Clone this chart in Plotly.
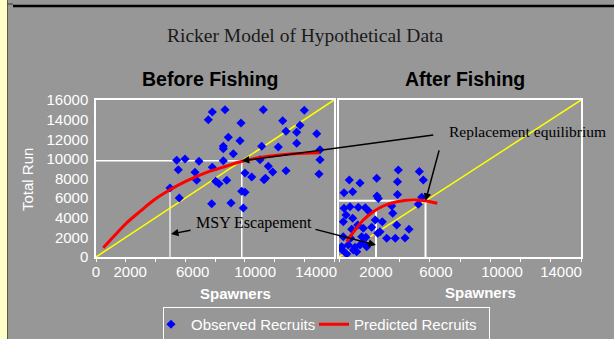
import plotly.graph_objects as go

W, H = 614, 339

# ---------------- data ----------------
# Before fishing: observed recruits (spawners, total run)
before_spawners = [5425, 5983, 6925, 5533, 6656, 6770, 5600, 4975, 7550, 7819, 8673, 7819,
                   8047, 8269, 7778, 8558, 8558, 8558, 8895, 8787, 9076, 9231, 9681, 9748,
                   9795, 10017, 9903, 10017, 10468, 11248, 11140, 11026, 11295, 11584, 11879,
                   12256, 12552, 12774, 12774, 13493, 13493, 13715, 14004, 14838, 15059,
                   15059, 14992, 11395]
before_run = [9855, 9987, 9753, 8897, 8632, 7817, 6013, 7032, 13992, 14777, 15011, 9141,
              7715, 7470, 5432, 11281, 11037, 9814, 12199, 7817, 5503, 10527, 11852, 13656,
              6695, 6594, 4994, 8560, 8153, 15011, 11281, 9916, 7878, 9243, 8662,
              11210, 13890, 12810, 8795, 12708, 11587, 13422, 14950, 12566, 10935,
              9916, 8459, 8021]

# Before fishing: predicted (Ricker) recruits
before_pred_s = [491, 1392, 2064, 2958, 3852, 4975, 6098, 7442, 8787, 10017, 11476, 13264, 15012]
before_pred_r = [948, 2430, 3480, 4640, 5760, 6850, 7750, 8620, 9270, 9830, 10240, 10530, 10629]

# After fishing: observed recruits
after_spawners = [3921, 5310, 681, 1389, 2493, 3868, 5574, 331, 906, 2513, 3868, 5468, 5243,
                  2599, 331, 727, 1276, 463, 906, 2003, 3485, 3551, 2863, 3815, 4628, 284,
                  840, 1607, 2162, 2711, 284, 774, 1501, 1785, 3154, 3723, 4364, 179, 615,
                  1058, 1389, 1832, 218, 946, 509, 1170, 1607, 1739, 1236, 2400, 2559]
after_run = [8866, 8713, 7847, 7541, 8020, 7674, 7847, 6553, 6655, 6217, 6369, 6084, 5371,
             5962, 4963, 5126, 5065, 4280, 3944, 4617, 5197, 4453, 3597, 3261, 2823, 3597,
             2823, 2925, 3027, 2578, 2069, 1906, 2069, 2008, 1906, 1906, 1936, 1050, 1223,
             989, 1223, 1050, 713, 713, 306, 540, 1396, 5024, 3261, 3771, 2415]

after_pred_s = [509, 1058, 1607, 2268, 2929, 3815, 4912, 5686, 6499]
after_pred_r = [1559, 2752, 3771, 4617, 5197, 5636, 5809, 5738, 5473]

# reference points
before_equilibrium = 9800
before_msy_s, before_msy_r = 4975, 6900
after_equilibrium = 5720
after_msy_s, after_msy_r = 2446, 4700

axis_max = 16000
y_ticks = [0, 2000, 4000, 6000, 8000, 10000, 12000, 14000, 16000]
y_tick_labels = [str(v) for v in y_ticks]
x_tick_labels = ["0", "2000", "6000", "10000", "14000"]
x_tick_pos_before = [0, 2300, 6500, 10700, 14800]
x_tick_labels_after = ["2000", "6000", "10000", "14000"]
x_tick_pos_after = [2446, 6414, 10778, 14679]

# ---------------- styling ----------------
BG = "#979797"
SANS = "Liberation Sans"
SERIF = "Liberation Serif"

def px_x(p):
    return p / W

def px_y(p):
    return 1 - p / H

fig = go.Figure()

for xa, ya, eq, ms, mr, lw in [("x", "y", before_equilibrium, before_msy_s, before_msy_r, 1.5),
                                ("x2", "y2", after_equilibrium, after_msy_s, after_msy_r, 2)]:
    fig.add_trace(go.Scatter(x=[0, eq], y=[eq, eq], mode="lines", xaxis=xa, yaxis=ya,
                             line=dict(color="white", width=lw), showlegend=False, hoverinfo="skip"))
    fig.add_trace(go.Scatter(x=[eq, eq], y=[0, eq], mode="lines", xaxis=xa, yaxis=ya,
                             line=dict(color="white", width=lw), showlegend=False, hoverinfo="skip"))
    fig.add_trace(go.Scatter(x=[ms, ms], y=[0, mr], mode="lines", xaxis=xa, yaxis=ya,
                             line=dict(color="#e8e8e8" if xa == "x" else "white", width=lw),
                             showlegend=False, hoverinfo="skip"))
    fig.add_trace(go.Scatter(x=[0, axis_max], y=[0, axis_max], mode="lines", xaxis=xa, yaxis=ya,
                             line=dict(color="#ffff00", width=1.5), showlegend=False, hoverinfo="skip"))

fig.add_trace(go.Scatter(x=before_spawners, y=before_run, mode="markers", name="Observed Recruits",
                         marker=dict(symbol="diamond", size=7, color="#0000ff"),
                         xaxis="x", yaxis="y", legendgroup="obs", showlegend=True))
fig.add_trace(go.Scatter(x=after_spawners, y=after_run, mode="markers", name="Observed Recruits",
                         marker=dict(symbol="diamond", size=7, color="#0000ff"),
                         xaxis="x2", yaxis="y2", legendgroup="obs", showlegend=False))
fig.add_trace(go.Scatter(x=before_pred_s, y=before_pred_r, mode="lines", name="Predicted Recruits",
                         line=dict(color="#ff0000", width=3, shape="spline"),
                         xaxis="x", yaxis="y", legendgroup="pred", showlegend=True))
fig.add_trace(go.Scatter(x=after_pred_s, y=after_pred_r, mode="lines", name="Predicted Recruits",
                         line=dict(color="#ff0000", width=3, shape="spline"),
                         xaxis="x2", yaxis="y2", legendgroup="pred", showlegend=False))

ydom = [px_y(257), px_y(100)]
common_axis = dict(showgrid=False, zeroline=False, showline=True, mirror=True,
                   linecolor="white", linewidth=1.5,
                   tickfont=dict(family=SANS, size=15, color="white"))

fig.update_layout(
    width=W, height=H, autosize=False,
    margin=dict(l=0, r=0, t=0, b=0, pad=0, autoexpand=False),
    paper_bgcolor=BG, plot_bgcolor=BG,
    showlegend=True,
    legend=dict(orientation="h", x=px_x(163), xanchor="left", y=px_y(307), yanchor="top",
                bgcolor="rgba(0,0,0,0)", bordercolor="white", borderwidth=1,
                font=dict(family=SANS, size=15, color="white"), itemwidth=30,
                indentation=-12, entrywidth=130, entrywidthmode="pixels"),
    xaxis=dict(domain=[px_x(96), px_x(334)], range=[0, axis_max], anchor="y",
               tickmode="array", tickvals=x_tick_pos_before, ticktext=x_tick_labels, ticks="",
               minor=dict(tickmode="linear", tick0=0, dtick=2000, ticks="outside",
                          ticklen=3, tickcolor="white"),
               ticklabelstandoff=0, **common_axis),
    yaxis=dict(domain=ydom, range=[0, axis_max], anchor="x",
               tickmode="array", tickvals=y_ticks, ticktext=y_tick_labels, ticks="",
               ticklabelstandoff=3, **common_axis),
    xaxis2=dict(domain=[px_x(339), px_x(581)], range=[0, axis_max], anchor="y2",
                tickmode="array", tickvals=x_tick_pos_after, ticktext=x_tick_labels_after, ticks="",
                minor=dict(tickmode="linear", tick0=0, dtick=2000, ticks="outside",
                           ticklen=3, tickcolor="white"),
                ticklabelstandoff=0, **common_axis),
    yaxis2=dict(domain=ydom, range=[0, axis_max], anchor="x2", showticklabels=False,
                ticks="", **common_axis),
)

# decorative frame pieces (slide background)
fig.add_shape(type="rect", xref="paper", yref="paper", x0=0, x1=px_x(7), y0=0, y1=1,
              fillcolor="#ffffc8", line=dict(width=0), layer="above")
fig.add_shape(type="line", xref="paper", yref="paper", x0=px_x(7.5), x1=px_x(7.5), y0=0, y1=1,
              line=dict(color="#5a5a4a", width=1), layer="above")
fig.add_shape(type="line", xref="paper", yref="paper", x0=px_x(7.5), x1=px_x(13), y0=px_y(4), y1=px_y(4),
              line=dict(color="#3a3a30", width=1), layer="above")
fig.add_shape(type="line", xref="paper", yref="paper", x0=px_x(13), x1=1, y0=px_y(6), y1=px_y(6),
              line=dict(color="black", width=2.5), layer="above")

ann = []
def label(text, x, y, family, size, color, angle=0):
    ann.append(dict(text=text, xref="paper", yref="paper", x=px_x(x), y=px_y(y),
                    xanchor="center", yanchor="middle", showarrow=False, textangle=angle,
                    font=dict(family=family, size=size, color=color)))

label("Ricker Model of Hypothetical Data", 305, 35, SERIF, 19.5, "#1a1a1a")
label("<b>Before Fishing</b>", 210, 79, SANS, 19.5, "black")
label("<b>After Fishing</b>", 465, 79, SANS, 19.5, "black")
label("Total Run", 27, 180, SANS, 15, "white", angle=-90)
label("<b>Spawners</b>", 235, 293, SANS, 15, "white")
label("<b>Spawners</b>", 480, 292, SANS, 15, "white")
label("Replacement equilibrium", 527, 131, SERIF, 15.5, "black")
label("MSY Escapement", 254, 223, SERIF, 16, "black")

arrow_style = dict(text="", showarrow=True, arrowhead=2, arrowsize=1, arrowwidth=1.5,
                   arrowcolor="black", axref="pixel", ayref="pixel")
ann.append(dict(xref="x", yref="y", x=before_equilibrium, y=before_equilibrium,
                ax=193, ay=-26, **arrow_style))
ann.append(dict(xref="x2", yref="y2", x=after_equilibrium, y=after_equilibrium,
                ax=14, ay=-52, **arrow_style))
ann.append(dict(xref="x", yref="y", x=5042, y=2344, ax=21, ay=-4, **arrow_style))
ann.append(dict(xref="x2", yref="y2", x=2446, y=1223, ax=-62, ay=-16, **arrow_style))

fig.update_layout(annotations=ann)

fig.write_html("out.html", config={"displayModeBar": False},
               post_script=("document.documentElement.style.margin='0px';"
                            "document.body.style.margin='0px';document.body.style.padding='0px';"
                            "document.body.style.overflow='hidden';window.scrollTo(0,0);"))
